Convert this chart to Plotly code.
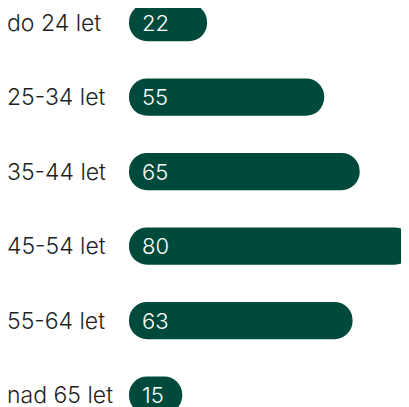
import plotly.graph_objects as go

categories = ["do 24 let", "25-34 let", "35-44 let", "45-54 let", "55-64 let", "nad 65 let"]
values = [22, 55, 65, 80, 63, 15]

BAR_COLOR = "#004a3b"
TEXT_COLOR = "#1f1f1f"
FONT = "Inter"

fig = go.Figure()
fig.add_trace(go.Bar(
    y=categories, x=values, base=[0] * len(values), orientation="h",
    marker=dict(color=BAR_COLOR, cornerradius="50%", line=dict(width=0)),
    width=0.5, hoverinfo="skip", showlegend=False,
))

annotations = []
for c, v in zip(categories, values):
    annotations.append(dict(
        x=0, y=c, xref="x", yref="y", text=str(v), showarrow=False,
        xanchor="left", xshift=11, font=dict(family=FONT, size=22, color="white", weight=300),
    ))
    annotations.append(dict(
        x=0, y=c, xref="paper", yref="y", text=c, showarrow=False,
        xanchor="left", xshift=-124, font=dict(family=FONT, size=23, color=TEXT_COLOR, weight=300),
    ))

fig.update_layout(
    width=401, height=399,
    margin=dict(l=121, r=0, t=0, b=0),
    paper_bgcolor="white", plot_bgcolor="white",
    xaxis=dict(range=[0, 78.9], visible=False, fixedrange=True),
    yaxis=dict(range=[5.161, -0.195], visible=False, fixedrange=True,
               categoryorder="array", categoryarray=categories),
    annotations=annotations,
    font=dict(family=FONT),
)

fig.write_html("out.html", config={"displayModeBar": False})
